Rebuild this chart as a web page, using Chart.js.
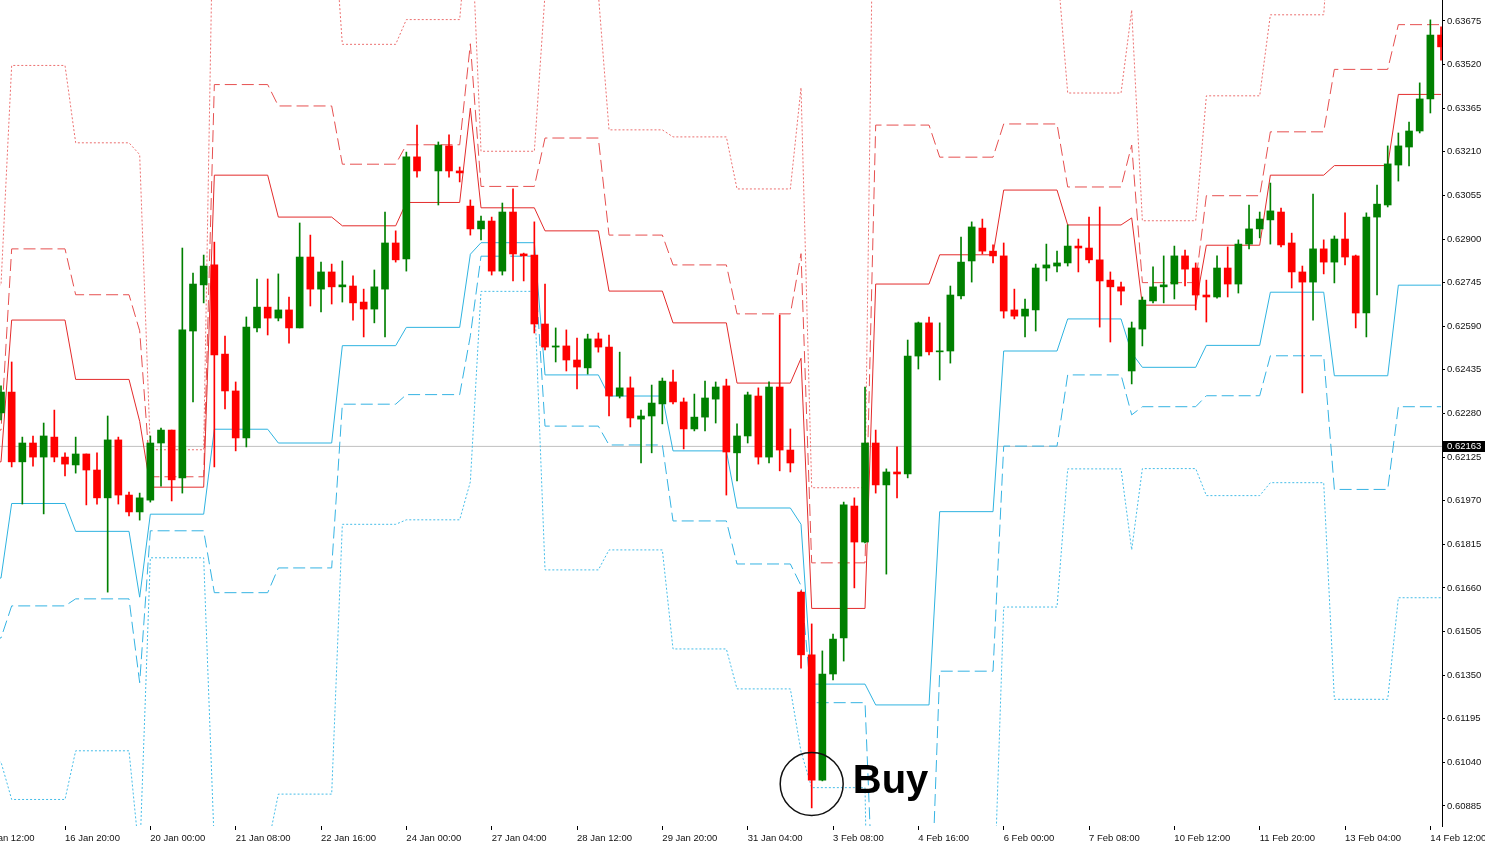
<!DOCTYPE html>
<html>
<head>
<meta charset="utf-8">
<script src="https://cdn.jsdelivr.net/npm/chart.js@4.4.1/dist/chart.umd.min.js"></script>
<style>
    html, body { margin: 0; padding: 0; background: #fff; overflow: hidden; }
    #wrap { width: 1485px; height: 846px; }
</style>
</head>
<body>
<div id="wrap"><canvas id="priceChart" width="1485" height="846"></canvas></div>
<script>
// H4 candles, bar 0 = 15 Jan 20:00 ... bar 135 = 14 Feb 16:00 (bar 40 shows no candle)
var open = [0.62282,0.62356,0.62108,0.62175,0.62125,0.62196,0.62125,0.62097,0.62136,0.62079,
    0.61980,0.62186,0.61990,0.61930,0.61972,0.62175,0.62221,0.62051,0.62573,0.62737,
    0.62808,0.62491,0.62360,0.62193,0.62584,0.62658,0.62619,0.62648,0.62584,0.62836,
    0.62722,0.62783,0.62730,0.62733,0.62676,0.62651,0.62722,0.62886,0.62829,0.63192,
    null,0.63142,0.63231,0.63142,0.63017,0.62936,0.62964,0.62786,0.62996,0.62847,
    0.62843,0.62598,0.62516,0.62520,0.62470,0.62442,0.62545,0.62516,0.62342,0.62371,
    0.62260,0.62271,0.62314,0.62392,0.62321,0.62225,0.62267,0.62331,0.62378,0.62140,
    0.62200,0.62342,0.62125,0.62374,0.62150,0.61645,0.61422,0.60977,0.61354,0.61482,
    0.61951,0.61823,0.62175,0.62026,0.62072,0.62065,0.62484,0.62602,0.62499,0.62502,
    0.62698,0.62822,0.62939,0.62857,0.62840,0.62648,0.62626,0.62648,0.62797,0.62804,
    0.62815,0.62875,0.62868,0.62826,0.62754,0.62730,0.62431,0.62580,0.62680,0.62730,
    0.62740,0.62840,0.62797,0.62701,0.62694,0.62797,0.62740,0.62882,0.62936,0.62968,
    0.62996,0.62886,0.62783,0.62747,0.62865,0.62818,0.62900,0.62840,0.62637,0.62978,
    0.63021,0.63163,0.63227,0.63284,0.63398,0.63625];
var high = [0.62378,0.62463,0.62196,0.62200,0.62246,0.62292,0.62140,0.62196,0.62136,0.62140,
    0.62271,0.62196,0.62001,0.61997,0.62200,0.62228,0.62221,0.62868,0.62779,0.62843,
    0.62889,0.62555,0.62392,0.62623,0.62758,0.62758,0.62776,0.62694,0.62957,0.62914,
    0.62818,0.62811,0.62822,0.62769,0.62722,0.62790,0.62996,0.62929,0.63209,0.63305,
    null,0.63245,0.63270,0.63156,0.63039,0.62982,0.62978,0.63028,0.63078,0.62850,
    0.62961,0.62740,0.62584,0.62577,0.62548,0.62562,0.62566,0.62559,0.62498,0.62410,
    0.62292,0.62381,0.62406,0.62434,0.62335,0.62349,0.62395,0.62392,0.62402,0.62243,
    0.62356,0.62371,0.62392,0.62630,0.62225,0.61650,0.61532,0.61436,0.61496,0.61965,
    0.61980,0.62374,0.62221,0.62083,0.62161,0.62541,0.62605,0.62623,0.62602,0.62733,
    0.62907,0.62961,0.62971,0.62879,0.62886,0.62722,0.62687,0.62811,0.62882,0.62857,
    0.62950,0.62900,0.62978,0.63014,0.62783,0.62747,0.62605,0.62694,0.62801,0.62840,
    0.62875,0.62861,0.62815,0.62754,0.62840,0.62872,0.62897,0.63021,0.62996,0.63099,
    0.63010,0.62921,0.62804,0.63060,0.62897,0.62911,0.62993,0.62843,0.62993,0.63092,
    0.63231,0.63277,0.63316,0.63455,0.63679,0.63654];
var low = [0.62257,0.62090,0.61958,0.62093,0.61923,0.62108,0.62058,0.62068,0.61955,0.61958,
    0.61645,0.61958,0.61916,0.61901,0.61965,0.62022,0.61969,0.61997,0.62321,0.62673,
    0.62090,0.62296,0.62147,0.62161,0.62570,0.62559,0.62609,0.62530,0.62584,0.62662,
    0.62641,0.62669,0.62676,0.62612,0.62552,0.62602,0.62552,0.62818,0.62786,0.63120,
    null,0.63021,0.63120,0.63103,0.62914,0.62897,0.62772,0.62772,0.62751,0.62751,
    0.62566,0.62506,0.62463,0.62431,0.62367,0.62420,0.62498,0.62271,0.62335,0.62232,
    0.62104,0.62140,0.62243,0.62314,0.62154,0.62218,0.62218,0.62246,0.61990,0.62040,
    0.62175,0.62100,0.62104,0.62076,0.62072,0.61375,0.60878,0.60974,0.61333,0.61400,
    0.61660,0.61820,0.61997,0.61709,0.61980,0.62051,0.62438,0.62488,0.62399,0.62459,
    0.62687,0.62747,0.62847,0.62815,0.62619,0.62616,0.62552,0.62573,0.62751,0.62783,
    0.62804,0.62783,0.62815,0.62587,0.62534,0.62666,0.62385,0.62520,0.62673,0.62673,
    0.62687,0.62733,0.62648,0.62605,0.62690,0.62694,0.62708,0.62865,0.62904,0.62882,
    0.62872,0.62726,0.62353,0.62612,0.62776,0.62744,0.62808,0.62584,0.62552,0.62701,
    0.63014,0.63106,0.63160,0.63277,0.63348,0.63536];
var close = [0.62356,0.62108,0.62175,0.62125,0.62200,0.62125,0.62100,0.62136,0.62079,0.61980,
    0.62186,0.61990,0.61930,0.61980,0.62175,0.62221,0.62044,0.62577,0.62740,0.62804,
    0.62488,0.62360,0.62193,0.62587,0.62658,0.62619,0.62648,0.62584,0.62836,0.62722,
    0.62783,0.62730,0.62737,0.62673,0.62651,0.62730,0.62886,0.62826,0.63192,0.63142,
    null,0.63234,0.63142,0.63135,0.62936,0.62964,0.62786,0.62996,0.62847,0.62840,
    0.62598,0.62516,0.62520,0.62470,0.62445,0.62545,0.62516,0.62342,0.62371,0.62264,
    0.62271,0.62317,0.62395,0.62321,0.62225,0.62267,0.62335,0.62374,0.62143,0.62200,
    0.62346,0.62125,0.62374,0.62150,0.62104,0.61422,0.60977,0.61354,0.61478,0.61955,
    0.61823,0.62175,0.62026,0.62072,0.62065,0.62484,0.62602,0.62499,0.62502,0.62701,
    0.62818,0.62943,0.62857,0.62840,0.62644,0.62626,0.62651,0.62797,0.62808,0.62815,
    0.62875,0.62868,0.62826,0.62751,0.62730,0.62715,0.62584,0.62683,0.62730,0.62737,
    0.62840,0.62793,0.62701,0.62694,0.62797,0.62740,0.62882,0.62936,0.62971,0.63000,
    0.62879,0.62783,0.62747,0.62865,0.62818,0.62900,0.62836,0.62637,0.62978,0.63024,
    0.63167,0.63231,0.63284,0.63398,0.63625,0.63583];

// daily pivot levels: first and last bar of each session (single-bar sessions = Sunday bars)
var periodStart = [-1,1,7,13,14,20,26,32,38,44,45,51,57,63,69,75,76,82,88,94,100,106,107,113,119,125,131];
var periodEnd   = [0,6,12,13,19,25,31,37,43,44,50,56,62,68,74,75,81,87,93,99,105,106,112,118,124,130,135];
var r3 = [0.62737,0.63517,0.63242,0.63200,0.62151,0.64351,0.64141,0.63592,0.63680,0.64113,0.63212,0.63771,0.63288,0.63263,0.63078,0.63438,0.62016,0.64802,0.64104,0.63881,0.63419,0.63714,0.62965,0.63409,0.63697,0.64250,0.64341];
var r2 = [0.62221,0.62865,0.62702,0.62574,0.62055,0.63449,0.63373,0.63166,0.63235,0.63594,0.63087,0.63259,0.62914,0.62808,0.62634,0.62848,0.61749,0.63305,0.63191,0.63309,0.63085,0.63234,0.62745,0.63054,0.63281,0.63503,0.63662];
var r1 = [0.62108,0.62612,0.62401,0.62252,0.62018,0.63127,0.62978,0.62947,0.63030,0.63365,0.63011,0.62929,0.62715,0.62602,0.62388,0.62476,0.61587,0.62740,0.62844,0.63074,0.62950,0.62975,0.62665,0.62878,0.63127,0.63161,0.63414];
var s1 = [0.61695,0.61960,0.61861,0.61627,0.61922,0.62224,0.62175,0.62521,0.62586,0.62846,0.62887,0.62417,0.62342,0.62147,0.61944,0.61886,0.61318,0.61244,0.61931,0.62502,0.62616,0.62495,0.62444,0.62522,0.62711,0.62414,0.62736];
var s2 = [0.61482,0.61596,0.61621,0.61323,0.61863,0.61643,0.61731,0.62313,0.62347,0.62556,0.62839,0.62235,0.62168,0.61898,0.61745,0.61668,0.61252,0.60313,0.61364,0.62164,0.62417,0.62275,0.62304,0.62343,0.62485,0.62010,0.62304];
var s3 = [0.61041,0.60908,0.61081,0.60698,0.61767,0.60740,0.60927,0.61886,0.61902,0.62037,0.62714,0.61724,0.61795,0.61443,0.61301,0.61078,0.60950,0.58816,0.60450,0.61592,0.62083,0.61795,0.62084,0.61988,0.62034,0.61264,0.61625];

var tickBars = [-2,6,14,22,30,38,46,54,62,70,78,86,94,102,110,118,126,134];
var timeLabels = ['15 Jan 12:00','16 Jan 20:00','20 Jan 00:00','21 Jan 08:00','22 Jan 16:00','24 Jan 00:00',
    '27 Jan 04:00','28 Jan 12:00','29 Jan 20:00','31 Jan 04:00','3 Feb 08:00','4 Feb 16:00',
    '6 Feb 00:00','7 Feb 08:00','10 Feb 12:00','11 Feb 20:00','13 Feb 04:00','14 Feb 12:00'];
var priceTicks = [0.60885,0.61040,0.61195,0.61350,0.61505,0.61660,0.61815,0.61970,0.62125,0.62280,
    0.62435,0.62590,0.62745,0.62900,0.63055,0.63210,0.63365,0.63520,0.63675];

var bidPrice = 0.62163;
var buyBar = 76, buyPrice = 0.60963;        // circle centre
var buyTextBar = 79.85, buyTextPrice = 0.60931;

var xMin = -0.094, xMax = 135.09;
var yMin = 0.608137, yMax = 0.637496;

var UP = '#008000', DOWN = '#ff0000';

var bars = [];
for (var i = 0; i < open.length; i++) {
    if (open[i] !== null) bars.push(i);
}
var bodyData = bars.map(function (i) { return {x: i, y: [open[i], close[i]]}; });
var wickData = bars.map(function (i) { return {x: i, y: [low[i], high[i]]}; });
var candleColors = bars.map(function (i) { return close[i] >= open[i] ? UP : DOWN; });

function levelPoints(levels) {
    var pts = [];
    for (var p = 0; p < periodStart.length; p++) {
        pts.push({x: periodStart[p], y: levels[p]});
        if (periodEnd[p] !== periodStart[p]) pts.push({x: periodEnd[p], y: levels[p]});
    }
    return pts;
}

function levelSet(label, levels, color, dash) {
    return {
        type: 'line',
        label: label,
        data: levelPoints(levels),
        borderColor: color,
        borderWidth: 1,
        borderDash: dash,
        pointRadius: 0,
        tension: 0,
        fill: false,
        order: 5
    };
}

var marks = {
    id: 'marks',
    afterDraw: function (chart) {
        var c = chart.ctx, xs = chart.scales.x, ys = chart.scales.y, a = chart.chartArea;
        c.save();
        // current bid box on the price axis
        var yb = Math.round(ys.getPixelForValue(bidPrice));
        c.fillStyle = '#000';
        c.fillRect(a.right + 1, yb - 5, chart.width - a.right - 1, 11);
        c.fillStyle = '#fff';
        c.font = '9.5px "Liberation Sans"';
        c.textBaseline = 'middle';
        c.textAlign = 'left';
        c.fillText(bidPrice.toFixed(5), a.right + 5, yb + 0.5);
        // Buy mark
        c.beginPath();
        c.arc(xs.getPixelForValue(buyBar), ys.getPixelForValue(buyPrice), 31.5, 0, Math.PI * 2);
        c.strokeStyle = '#111';
        c.lineWidth = 1.5;
        c.stroke();
        c.fillStyle = '#000';
        c.font = 'bold 40px "Liberation Sans"';
        c.textBaseline = 'alphabetic';
        c.fillText('Buy', xs.getPixelForValue(buyTextBar), ys.getPixelForValue(buyTextPrice));
        c.restore();
    }
};

var axisFont = {family: 'Liberation Sans', size: 9.5};

new Chart(document.getElementById('priceChart'), {
    type: 'line',
    data: {
        datasets: [
            {
                type: 'bar', label: 'body', data: bodyData, backgroundColor: candleColors,
                barThickness: 7, minBarLength: 1, borderWidth: 0, grouped: false, clip: 0, order: 1
            },
            {
                type: 'bar', label: 'wick', data: wickData, backgroundColor: candleColors,
                barThickness: 1, minBarLength: 1, borderWidth: 0, grouped: false, clip: 0, order: 2
            },
            levelSet('R1', r1, '#e32b2b', []),
            levelSet('R2', r2, '#e65050', [12, 5]),
            levelSet('R3', r3, '#ec7070', [2, 2]),
            levelSet('S1', s1, '#2fb3e0', []),
            levelSet('S2', s2, '#35b3e3', [12, 5]),
            levelSet('S3', s3, '#45bde8', [2, 2]),
            {
                type: 'line', label: 'bid', data: [{x: -1, y: bidPrice}, {x: 137, y: bidPrice}],
                borderColor: '#c0c0c0', borderWidth: 1, pointRadius: 0, order: 6
            }
        ]
    },
    options: {
        responsive: false,
        animation: false,
        devicePixelRatio: 1,
        layout: {padding: 0},
        plugins: {legend: {display: false}, tooltip: {enabled: false}},
        scales: {
            x: {
                type: 'linear',
                min: xMin,
                max: xMax,
                offset: false,
                position: 'bottom',
                border: {display: false},
                grid: {offset: false, drawOnChartArea: false, drawTicks: true, tickLength: 4, color: '#000'},
                ticks: {
                    autoSkip: false, maxRotation: 0, minRotation: 0, align: 'start', padding: 3,
                    color: '#111', font: axisFont,
                    callback: function (v, i) { return timeLabels[i]; }
                },
                afterBuildTicks: function (s) {
                    s.ticks = tickBars.map(function (b) { return {value: b}; });
                },
                afterFit: function (s) { s.height = 20; s.paddingLeft = 0; s.paddingRight = 0; }
            },
            y: {
                type: 'linear',
                position: 'right',
                min: yMin,
                max: yMax,
                beginAtZero: false,
                border: {display: true, color: '#000', width: 1},
                grid: {drawOnChartArea: false, drawTicks: true, tickLength: 3, color: '#000'},
                ticks: {
                    color: '#111', padding: 2, font: axisFont,
                    callback: function (v) { return v.toFixed(5); }
                },
                afterBuildTicks: function (s) {
                    s.ticks = priceTicks.map(function (v) { return {value: v}; });
                },
                afterFit: function (s) { s.width = 43; s.paddingTop = 0; s.paddingBottom = 0; }
            }
        }
    },
    plugins: [marks]
});
</script>
</body>
</html>
